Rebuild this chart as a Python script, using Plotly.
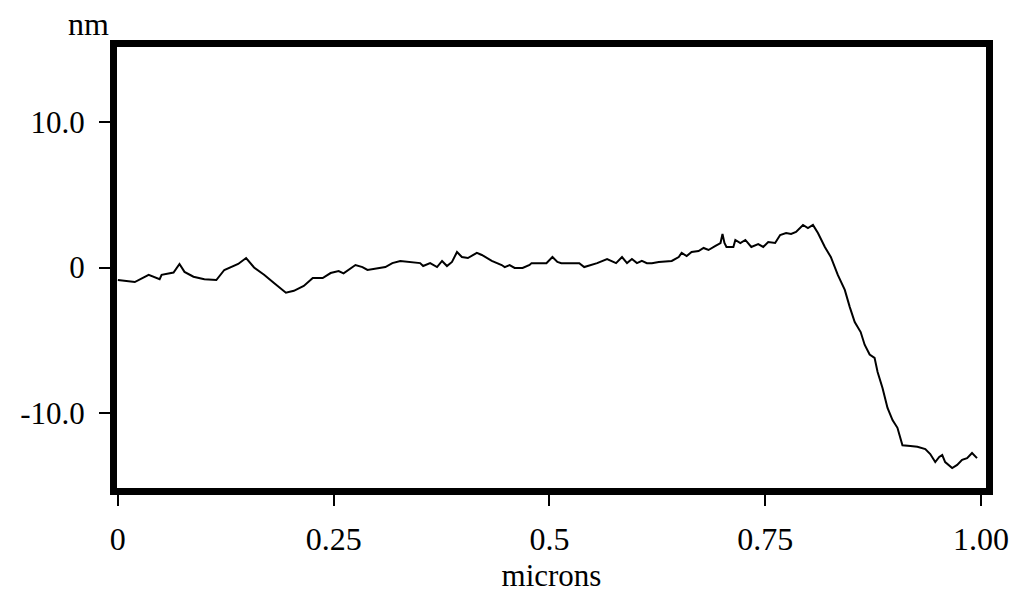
import plotly.graph_objects as go

# Profile data (microns vs nm)
x_microns = [0.0, 0.0104, 0.0196, 0.0357, 0.0484, 0.0507, 0.0645, 0.0714, 0.0772, 0.0876,
             0.1002, 0.1141, 0.1233, 0.1394, 0.1486, 0.1578, 0.1694, 0.1809, 0.1947, 0.2039,
             0.2154, 0.2258, 0.2373, 0.2465, 0.2558, 0.2615, 0.2753, 0.2834, 0.2892, 0.3099,
             0.3180, 0.3272, 0.3502, 0.3537, 0.3618, 0.3698, 0.3756, 0.3813, 0.3871, 0.3929,
             0.3986, 0.4055, 0.4159, 0.4217, 0.4332, 0.4447, 0.4482, 0.4539, 0.4597, 0.4689,
             0.4770, 0.4793, 0.4965, 0.5035, 0.5092, 0.5138, 0.5346, 0.5403, 0.5553, 0.5668,
             0.5772, 0.5841, 0.5899, 0.5956, 0.6014, 0.6071, 0.6129, 0.6187, 0.6267, 0.6417,
             0.6498, 0.6532, 0.6590, 0.6647, 0.6728, 0.6786, 0.6843, 0.6924, 0.6982, 0.7005,
             0.7028, 0.7051, 0.7131, 0.7154, 0.7212, 0.7270, 0.7339, 0.7419, 0.7477, 0.7535,
             0.7615, 0.7673, 0.7742, 0.7800, 0.7857, 0.7938, 0.7995, 0.8053, 0.8111, 0.8191,
             0.8260, 0.8341, 0.8422, 0.8479, 0.8537, 0.8606, 0.8652, 0.8710, 0.8767, 0.8802,
             0.8859, 0.8917, 0.8975, 0.9032, 0.9090, 0.9182, 0.9263, 0.9355, 0.9412, 0.9470,
             0.9516, 0.9551, 0.9585, 0.9666, 0.9724, 0.9781, 0.9839, 0.9896, 0.9954]
height_nm = [-0.86, -0.94, -1.0, -0.5, -0.8, -0.5, -0.35, 0.24, -0.3, -0.63,
             -0.8, -0.86, -0.17, 0.24, 0.65, 0.0, -0.5, -1.07, -1.73, -1.6,
             -1.27, -0.72, -0.72, -0.38, -0.24, -0.4, 0.17, 0.03, -0.17, 0.03,
             0.3, 0.45, 0.3, 0.1, 0.3, 0.03, 0.45, 0.1, 0.38, 1.06,
             0.72, 0.65, 1.0, 0.86, 0.45, 0.17, 0.03, 0.17, -0.03, -0.03,
             0.17, 0.3, 0.3, 0.72, 0.38, 0.3, 0.3, 0.03, 0.3, 0.58,
             0.3, 0.72, 0.3, 0.58, 0.3, 0.45, 0.3, 0.3, 0.38, 0.45,
             0.72, 1.0, 0.79, 1.06, 1.13, 1.34, 1.2, 1.48, 1.68, 2.3,
             1.68, 1.41, 1.41, 1.89, 1.68, 1.89, 1.41, 1.61, 1.41, 1.75,
             1.68, 2.23, 2.37, 2.3, 2.44, 2.92, 2.71, 2.92, 2.37, 1.41,
             0.72, -0.51, -1.54, -2.7, -3.74, -4.43, -5.3, -5.97, -6.2, -7.17,
             -8.27, -9.64, -10.47, -11.0, -12.2, -12.25, -12.3, -12.46, -12.8, -13.35,
             -13.0, -12.87, -13.35, -13.76, -13.55, -13.2, -13.08, -12.73, -13.08]

x_tickvals = [0, 0.25, 0.5, 0.75, 1.0]
x_ticktext = ["0", "0.25", "0.5", "0.75", "1.00"]
y_tickvals = [-10, 0, 10]
y_ticktext = ["-10.0", "0", "10.0"]

FONT = "Liberation Serif"
W, H = 1021, 603
ML, MR, MT, MB = 117, 32, 47, 115

fig = go.Figure()
fig.add_trace(go.Scatter(x=x_microns, y=height_nm, mode="lines",
                         line=dict(color="black", width=2), hoverinfo="skip"))

fig.update_layout(
    width=W, height=H,
    margin=dict(l=ML, r=MR, t=MT, b=MB, pad=0),
    paper_bgcolor="white", plot_bgcolor="white",
    showlegend=False,
    font=dict(family=FONT, color="black", size=32),
    xaxis=dict(range=[-0.001, 1.0058], tickvals=x_tickvals, ticktext=x_ticktext,
               showline=True, linecolor="black", linewidth=7, mirror=True,
               ticks="outside", ticklen=11, tickwidth=2, tickcolor="black",
               ticklabelstandoff=6,
               showgrid=False, zeroline=False,
               tickfont=dict(family=FONT, size=32, color="black"),
               title=dict(text="microns", font=dict(family=FONT, size=31, color="black"),
                          standoff=10)),
    yaxis=dict(range=[-15.13, 15.13], tickvals=y_tickvals, ticktext=y_ticktext,
               showline=True, linecolor="black", linewidth=7, mirror=True,
               ticks="outside", ticklen=11, tickwidth=2, tickcolor="black",
               ticklabelstandoff=8,
               showgrid=False, zeroline=False,
               tickfont=dict(family=FONT, size=31, color="black")),
    annotations=[dict(text="nm", showarrow=False, xref="paper", yref="paper",
                      x=(88 - ML) / (W - ML - MR), y=1 + (MT - 24) / (H - MT - MB),
                      xanchor="center", yanchor="middle",
                      font=dict(family=FONT, size=32, color="black"))],
)

fig.write_html("out.html", config={"displayModeBar": False, "staticPlot": True})
with open("out.html", "r", encoding="utf-8") as f:
    html = f.read()
html = html.replace("<head>", "<head><style>html,body{margin:0;padding:0;overflow:hidden;}</style>", 1)
with open("out.html", "w", encoding="utf-8") as f:
    f.write(html)
